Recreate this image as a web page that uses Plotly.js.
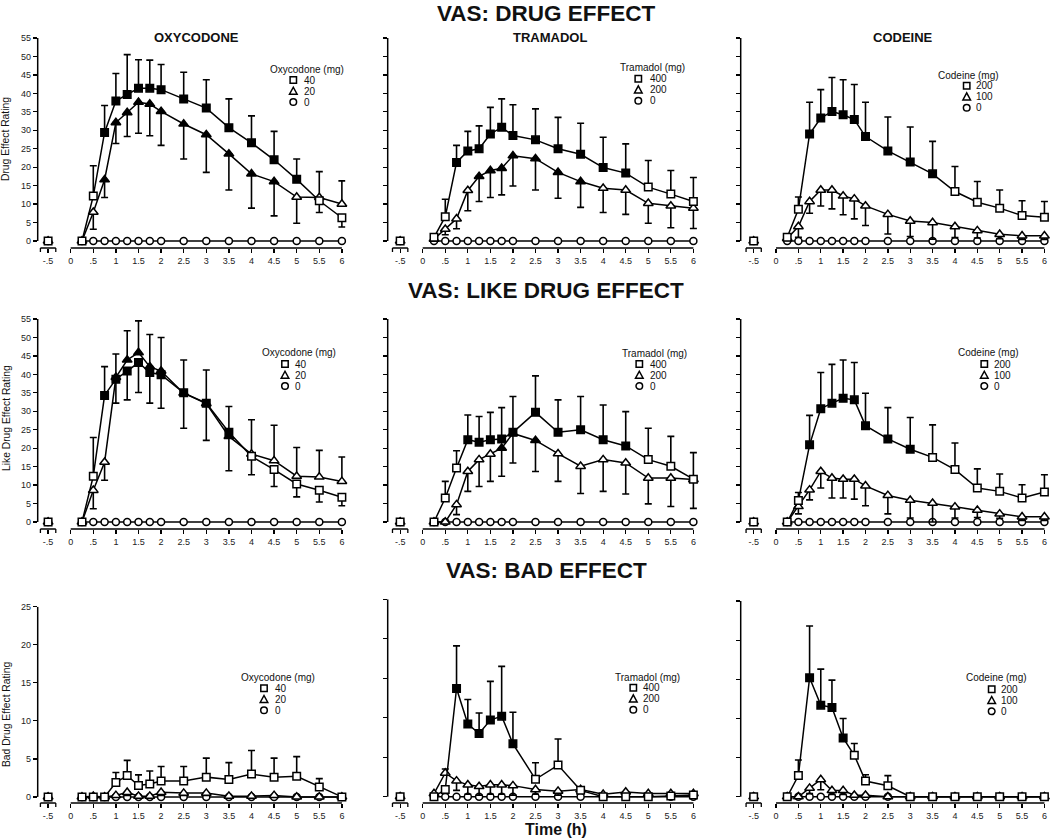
<!DOCTYPE html>
<html><head><meta charset="utf-8">
<script src="https://cdn.plot.ly/plotly-3.0.1.min.js"></script>
<style>html,body{margin:0;padding:0;background:#fff}#chart{width:1050px;height:839px}</style>
</head><body><div id="chart"></div>
<script>
// ---------- DATA ----------
const time = [0.25,0.5,0.75,1,1.25,1.5,1.75,2,2.5,3,3.5,4,4.5,5,5.5,6];
const baselineTime = [-0.5];
const tickVals = [-0.5,0,0.5,1,1.5,2,2.5,3,3.5,4,4.5,5,5.5,6];
const tickText = ['-.5','0','.5','1','1.5','2','2.5','3','3.5','4','4.5','5','5.5','6'];

const rowTitles = ['VAS: DRUG EFFECT','VAS: LIKE DRUG EFFECT','VAS: BAD EFFECT'];
const yTitles = ['Drug Effect Rating','Like Drug Effect Rating','Bad Drug Effect Rating'];
const drugTitles = ['OXYCODONE','TRAMADOL','CODEINE'];
const legendTitles = ['Oxycodone (mg)','Tramadol (mg)','Codeine (mg)'];
const oxyDoses = ['40','20','0'];
const tramDoses = ['400','200','0'];
const codDoses = ['200','100','0'];
const xTitle = 'Time (h)';

// VAS: Drug effect
const deOxyHigh = [0,12.2,29.4,37.9,39.7,41.4,41.4,41.0,38.5,36.0,30.7,26.6,22.0,16.7,10.9,6.3];
const deOxyHighErr = [0,8.2,7.3,7.5,10.8,7.7,7.6,6.8,7.2,7.7,7.8,7.3,7.7,5.5,3.2,2.5];
const deOxyHighSig = [0,0,1,1,1,1,1,1,1,1,1,1,1,1,0,0];
const deOxyLow = [0,7.8,16.6,32.1,34.8,37.6,37.1,35.1,31.7,28.8,23.6,18.2,16.1,11.9,11.8,10.0];
const deOxyLowErr = [0,4.6,4.8,5.7,6.5,8.4,8.6,9.2,9.5,10.2,9.8,9.3,9.3,7.1,7.0,6.3];
const deOxyLowSig = [0,0,1,1,1,1,1,1,1,1,1,1,1,0,0,0];
const deOxyPlacebo = [0,0,0,0,0,0,0,0,0,0,0,0,0,0,0,0];
const deOxyBase = [0,0,0];

const deTramHigh = [1.0,6.6,21.3,24.4,25.0,29.0,30.8,28.6,27.4,25.0,23.5,19.9,18.4,14.6,12.7,10.7];
const deTramHighErr = [0,4.7,4.6,5.3,6.2,7.2,7.7,8.3,8.4,8.5,8.4,8.2,7.9,7.2,6.4,6.5];
const deTramHighSig = [0,0,1,1,1,1,1,1,1,1,1,1,1,0,0,0];
const deTramLow = [0.5,3.2,6.0,13.7,17.5,19.1,19.7,23.1,22.3,18.6,16.1,14.3,13.8,10.2,9.5,8.9];
const deTramLowErr = [0,1.5,2.7,5.5,6.8,7.3,7.2,8.2,8.5,7.0,7.0,6.6,6.6,5.4,5.9,5.5];
const deTramLowSig = [0,0,0,0,1,1,1,1,1,1,1,0,0,0,0,0];
const deTramPlacebo = [0,0,0,0,0,0,0,0,0,0,0,0,0,0,0,0];
const deTramBase = [0,0,0];

const deCodHigh = [1.0,8.6,29.0,33.3,35.1,34.2,32.9,28.3,24.4,21.4,18.2,13.4,10.5,8.9,6.9,6.4];
const deCodHighErr = [0,3.3,8.6,7.7,9.2,9.5,9.5,9.3,9.2,9.5,8.8,6.8,5.6,4.9,4.0,4.3];
const deCodHighSig = [0,0,1,1,1,1,1,1,1,1,1,0,0,0,0,0];
const deCodLow = [0.7,3.9,10.7,13.8,13.8,12.2,11.4,9.5,7.2,5.4,5.0,3.9,2.8,1.8,1.4,1.4];
const deCodLowErr = [0,2.9,3.2,4.3,5.1,5.1,5.4,5.3,5.3,4.2,4.5,3.0,2.0,1.2,1.0,1.0];
const deCodLowSig = [0,0,0,0,0,0,0,0,0,0,0,0,0,0,0,0];
const deCodPlacebo = [0,0,0,0,0,0,0,0,0,0,0,0,0,0,0,0];
const deCodBase = [0,0,0];

// VAS: Like drug effect
const likeOxyHigh = [0,12.4,34.3,38.7,40.9,43.2,40.5,39.9,35.0,32.2,24.3,17.8,14.2,10.3,8.6,6.7];
const likeOxyHighErr = [0,10.5,7.8,6.5,7.8,8.1,8.3,9.1,8.9,9.0,7.0,5.0,4.6,3.5,3.2,2.3];
const likeOxyHighSig = [0,0,1,1,1,1,1,1,1,1,1,0,0,0,0,0];
const likeOxyLow = [0,8.6,16.2,39.2,43.9,45.9,42.1,40.9,34.9,32.1,23.2,18.4,16.6,12.4,12.2,11.0];
const likeOxyLowErr = [0,5.0,4.9,6.3,7.9,8.6,8.7,9.1,9.5,10.0,9.3,9.3,9.6,7.8,7.2,6.6];
const likeOxyLowSig = [0,0,0,1,1,1,1,1,1,1,1,0,0,0,0,0];
const likeOxyPlacebo = [0,0,0,0,0,0,0,0,0,0,0,0,0,0,0,0];
const likeOxyBase = [0,0,0];

const likeTramHigh = [0,6.5,14.6,22.3,21.6,22.3,22.5,24.3,29.7,24.3,25.0,22.3,20.6,16.9,15.1,11.6];
const likeTramHighErr = [0,4.5,4.7,6.7,7.0,7.4,8.5,9.7,9.9,8.8,9.0,9.4,9.3,8.5,8.1,7.2];
const likeTramHighSig = [0,0,0,1,1,1,1,1,1,1,1,1,1,0,0,0];
const likeTramLow = [0,0,4.7,13.7,16.9,18.4,20.0,24.0,22.1,18.5,15.1,16.9,16.0,11.9,11.9,11.5];
const likeTramLowErr = [0,0,2.7,5.4,7.3,7.4,7.6,8.0,8.4,7.5,7.4,8.6,8.4,7.0,7.7,7.8];
const likeTramLowSig = [0,0,0,0,0,0,1,1,1,0,0,0,0,0,0,0];
const likeTramPlacebo = [0,0,0,0,0,0,0,0,0,0,0,0,0,0,0,0];
const likeTramBase = [0,0,0];

const likeCodHigh = [0,5.8,20.9,30.7,32.2,33.5,33.1,26.1,22.5,19.7,17.5,14.2,9.2,8.3,6.5,8.1];
const likeCodHighErr = [0,2.2,8.0,9.8,10.5,10.4,10.1,8.8,8.5,8.6,8.8,7.2,5.2,4.7,3.6,4.7];
const likeCodHighSig = [0,0,1,1,1,1,1,1,1,1,0,0,0,0,0,0];
const likeCodLow = [0,4.2,8.7,13.7,11.9,11.6,11.6,9.8,7.2,5.9,5.1,4.1,3.2,2.2,1.4,1.4];
const likeCodLowErr = [0,2.0,2.7,4.5,5.4,5.1,5.4,5.4,5.0,4.8,5.1,3.0,2.0,1.2,1.0,1.0];
const likeCodLowSig = [0,0,0,0,0,0,0,0,0,0,0,0,0,0,0,0];
const likeCodPlacebo = [0,0,0,0,0,0,0,0,0,0,0,0,0,0,0,0];
const likeCodBase = [0,0,0];

// VAS: Bad effect
const badOxyHigh = [0,0,0,1.9,2.8,1.5,1.7,2.1,2.1,2.6,2.3,3.0,2.6,2.7,1.3,0];
const badOxyHighErr = [0,0,0,1.3,2.0,1.4,1.7,1.9,1.9,2.5,2.2,3.1,2.5,2.6,1.1,0];
const badOxyHighSig = [0,0,0,0,0,0,0,0,0,0,0,0,0,0,0,0];
const badOxyLow = [0,0.1,0,0.2,0.6,0.1,0.1,0.6,0.5,0.5,0.1,0.1,0.2,0,0,0];
const badOxyLowErr = [0,0,0,0.2,0.4,0.1,0.1,0.4,0.3,0.3,0.1,0.1,0.1,0,0,0];
const badOxyLowSig = [0,0,0,0,0,0,0,0,0,0,0,0,0,0,0,0];
const badOxyPlacebo = [0,0,0,0,0,0,0,0,0,0,0,0,0,0,0,0];
const badOxyBase = [0,0,0];

const badTramHigh = [0,0.9,13.7,9.2,8.0,9.7,10.2,6.7,2.2,4.0,0.8,0,0,0,0.1,0.2];
const badTramHighErr = [0,0.5,5.4,3.1,2.6,4.9,6.3,4.0,2.1,3.3,0.3,0,0,0,0,0];
const badTramHighSig = [0,0,1,1,1,1,1,1,0,0,0,0,0,0,0,0];
const badTramLow = [0.4,3.0,2.0,1.5,1.3,1.5,1.5,1.4,0.9,0.7,0.9,0.3,0.6,0.4,0.4,0.4];
const badTramLowErr = [0,0.5,1.2,1.2,1.1,1.2,1.2,1.2,0.6,0.5,0.3,0,0,0,0,0];
const badTramLowSig = [0,0,0,0,0,0,0,0,0,0,0,0,0,0,0,0];
const badTramPlacebo = [0,0,0,0,0,0,0,0,0,0,0,0,0,0,0,0];
const badTramBase = [0,0,0];

const badCodHigh = [0,2.7,15.2,11.7,11.4,7.5,5.3,2.0,1.4,0,0,0,0,0,0,0];
const badCodHighErr = [0,2.0,6.6,4.6,3.5,2.5,1.5,0.8,1.3,0,0,0,0,0,0,0];
const badCodHighSig = [0,0,1,1,1,1,0,0,0,0,0,0,0,0,0,0];
const badCodLow = [0,0,1.1,2.2,0.8,0.8,0.2,0.2,0,0,0,0,0,0,0,0];
const badCodLowErr = [0,0,0.7,1.3,0.5,0.5,0,0,0,0,0,0,0,0,0,0];
const badCodLowSig = [0,0,0,0,0,0,0,0,0,0,0,0,0,0,0,0];
const badCodPlacebo = [0,0,0,0,0,0,0,0,0,0,0,0,0,0,0,0];
const badCodBase = [0,0,0];

// ---------- PANEL TABLE (built from arrays above) ----------
const panels = [
  [deOxyHigh,deOxyHighErr,deOxyHighSig,deOxyLow,deOxyLowErr,deOxyLowSig,deOxyPlacebo,deOxyBase,oxyDoses],
  [deTramHigh,deTramHighErr,deTramHighSig,deTramLow,deTramLowErr,deTramLowSig,deTramPlacebo,deTramBase,tramDoses],
  [deCodHigh,deCodHighErr,deCodHighSig,deCodLow,deCodLowErr,deCodLowSig,deCodPlacebo,deCodBase,codDoses],
  [likeOxyHigh,likeOxyHighErr,likeOxyHighSig,likeOxyLow,likeOxyLowErr,likeOxyLowSig,likeOxyPlacebo,likeOxyBase,oxyDoses],
  [likeTramHigh,likeTramHighErr,likeTramHighSig,likeTramLow,likeTramLowErr,likeTramLowSig,likeTramPlacebo,likeTramBase,tramDoses],
  [likeCodHigh,likeCodHighErr,likeCodHighSig,likeCodLow,likeCodLowErr,likeCodLowSig,likeCodPlacebo,likeCodBase,codDoses],
  [badOxyHigh,badOxyHighErr,badOxyHighSig,badOxyLow,badOxyLowErr,badOxyLowSig,badOxyPlacebo,badOxyBase,oxyDoses],
  [badTramHigh,badTramHighErr,badTramHighSig,badTramLow,badTramLowErr,badTramLowSig,badTramPlacebo,badTramBase,tramDoses],
  [badCodHigh,badCodHighErr,badCodHighSig,badCodLow,badCodLowErr,badCodLowSig,badCodPlacebo,badCodBase,codDoses]
];

// ---------- LAYOUT GEOMETRY (pixels) ----------
const W = 1050, H = 839;
const PX = p => p / W;
const PY = p => 1 - p / H;
const colPx = [[37.7,345.5],[387.7,697],[740.7,1048]];
const xRanges = [[-0.73,6.08],[-0.776,6.08],[-0.79,6.08]];
const rowPx = [
  [[38,248],[38,248],[38,248]],
  [[319,529],[319,529],[319,529]],
  [[606.7,803],[599.3,803],[601,803]]
];
const yRanges = [[-1.9,55],[-1.9,55],[-0.8,25]];
const yMax = [55,55,25];
// legend positions: [titleCx, titleCy, symbolX, firstItemY, labelLeft]
const legPos = [
  [307,69,293.3,80,301.7],[652,67.7,638.3,78.7,647.7],[968,75,966.7,85.7,974],
  [299,352.7,285,364,293.3],[654,353.3,639.3,364,647.7],[988.5,352.3,984.3,364,991.7],
  [278,677.3,264,688.3,272.7],[647,677.7,633.3,687.7,641],[996,677.7,991.7,689.3,999]
];

const FONT = 'Liberation Sans, Arial, Helvetica, sans-serif';
const INK = '#111';
const traces = [], shapes = [], annotations = [];
const layout = {
  width: W, height: H, margin: {l:0,r:0,t:0,b:0},
  paper_bgcolor: '#fff', plot_bgcolor: 'rgba(0,0,0,0)',
  showlegend: false, font: {family: FONT, color: INK, size: 9}
};

const sym = ['square','triangle-up','circle'];
const msize = [7.5, 8.5, 7];
const fillOf = s => s.map(v => v ? '#000' : '#fff');

for (let r = 0; r < 3; r++) {
  for (let c = 0; c < 3; c++) {
    const idx = r*3 + c;
    const n = idx + 1;
    const xa = 'x' + (n > 1 ? n : ''), ya = 'y' + (n > 1 ? n : '');
    const xk = 'xaxis' + (n > 1 ? n : ''), yk = 'yaxis' + (n > 1 ? n : '');
    const [hi, hiErr, hiSig, lo, loErr, loSig, pl, base, doses] = panels[idx];

    layout[xk] = {
      domain: [PX(colPx[c][0]), PX(colPx[c][1])], anchor: ya,
      range: xRanges[c], tickmode: 'array', tickvals: tickVals, ticktext: tickText,
      ticks: 'outside', ticklen: 4, tickwidth: 1.3, tickcolor: '#000',
      showline: false, zeroline: false, showgrid: false,
      tickfont: {family: FONT, size: 9, color: '#222'}, fixedrange: true
    };
    layout[yk] = {
      domain: [PY(rowPx[r][c][1]), PY(rowPx[r][c][0])], anchor: xa,
      range: yRanges[r], tickmode: 'linear', tick0: 0, dtick: 5,
      ticks: 'outside', ticklen: 4, tickwidth: 1.3, tickcolor: '#000',
      showticklabels: c === 0, showline: false, zeroline: false, showgrid: false,
      tickfont: {family: FONT, size: 9, color: '#222'}, fixedrange: true
    };

    // axis lines
    const ln = {color: '#000', width: 1.5};
    shapes.push({type:'line', xref: xa + ' domain', yref: ya, x0: 0, x1: 0, y0: 0, y1: yMax[r], line: ln});
    shapes.push({type:'line', xref: xa, yref: ya + ' domain', x0: 0, x1: 6, y0: 0, y1: 0, line: ln});
    shapes.push({type:'line', xref: xa, yref: ya + ' domain', x0: -0.67, x1: -0.33, y0: 0, y1: 0, line: ln});
    [-0.67, -0.33].forEach(xv => shapes.push({
      type:'line', xref: xa, yref: ya + ' domain', ysizemode: 'pixel', yanchor: 0,
      x0: xv, x1: xv, y0: 0, y1: -4, line: {color:'#000', width: 1.3}
    }));

    // error-bar directions: the higher of the two active doses gets the upward bar
    const hiUp = hi.map((v, j) => v >= lo[j]);
    const series = [
      {y: pl, err: null, sig: null, s: 2},
      {y: lo, err: loErr, sig: loSig, s: 1},
      {y: hi, err: hiErr, sig: hiSig, s: 0}
    ];
    // baseline (-0.5) points, not connected
    [2,1,0].forEach(k => {
      traces.push({
        x: baselineTime, y: [base[k]], xaxis: xa, yaxis: ya, type: 'scatter', mode: 'markers',
        cliponaxis: false, hoverinfo: 'skip',
        marker: {symbol: sym[k], size: msize[k], color: '#fff', line: {color: '#000', width: 1.5}}
      });
    });
    series.forEach(sr => {
      const t = {
        x: time, y: sr.y, xaxis: xa, yaxis: ya, type: 'scatter', mode: 'lines+markers',
        cliponaxis: false,
        line: {color: '#000', width: 1.5},
        marker: {symbol: sym[sr.s], size: msize[sr.s],
                 color: sr.sig ? fillOf(sr.sig) : '#fff', line: {color: '#000', width: 1.5}}
      };
      if (sr.err) {
        const isHigh = sr.s === 0;
        const up = sr.err.map((e, j) => (isHigh ? hiUp[j] : !hiUp[j]) ? e : 0);
        const dn = sr.err.map((e, j) => (isHigh ? hiUp[j] : !hiUp[j]) ? 0 : e);
        t.error_y = {type: 'data', symmetric: false, array: up, arrayminus: dn,
                     color: '#000', thickness: 1.6, width: 3.5};
      }
      traces.push(t);
    });

    // legend (text + symbols)
    const [tcx, tcy, sx, iy, lx] = legPos[idx];
    annotations.push({xref:'paper', yref:'paper', x: PX(tcx), y: PY(tcy), xanchor:'center', yanchor:'middle',
      text: legendTitles[c], showarrow: false, font: {family: FONT, size: 10, color: INK}});
    for (let k = 0; k < 3; k++) {
      const yy = iy + k*11;
      annotations.push({xref:'paper', yref:'paper', x: PX(lx), y: PY(yy), xanchor:'left', yanchor:'middle',
        text: doses[k], showarrow: false, font: {family: FONT, size: 10, color: INK}});
      const sl = {color:'#000', width: 1.5};
      if (k === 0) shapes.push({type:'rect', xref:'paper', yref:'paper', x0: PX(sx-3.2), x1: PX(sx+3.2), y0: PY(yy+3.2), y1: PY(yy-3.2), line: sl, fillcolor:'#fff'});
      if (k === 1) shapes.push({type:'path', xref:'paper', yref:'paper',
        path: `M ${PX(sx-3.8)},${PY(yy+3.2)} L ${PX(sx+3.8)},${PY(yy+3.2)} L ${PX(sx)},${PY(yy-3.8)} Z`, line: sl, fillcolor:'#fff'});
      if (k === 2) shapes.push({type:'circle', xref:'paper', yref:'paper', x0: PX(sx-3.3), x1: PX(sx+3.3), y0: PY(yy+3.3), y1: PY(yy-3.3), line: sl, fillcolor:'#fff'});
    }
  }
}

// titles
const rowTitleY = [0, 277, 557];
rowTitles.forEach((t, r) => annotations.push({xref:'paper', yref:'paper', x: PX(546), y: PY(rowTitleY[r]),
  xanchor:'center', yanchor:'top', borderpad: 0, text: t, showarrow: false,
  font: {family: FONT, size: 22.5, color: INK, weight: 700}}));
const drugTitleX = [196, 550, 903];
drugTitles.forEach((t, c) => annotations.push({xref:'paper', yref:'paper', x: PX(drugTitleX[c]), y: PY(37.5),
  xanchor:'center', yanchor:'middle', text: t, showarrow: false,
  font: {family: FONT, size: 13, color: INK, weight: 700}}));
const yTitleY = [139, 418, 715];
yTitles.forEach((t, r) => annotations.push({xref:'paper', yref:'paper', x: PX(6), y: PY(yTitleY[r]),
  xanchor:'center', yanchor:'middle', textangle: -90, text: t, showarrow: false,
  font: {family: FONT, size: 10.3, color: INK}}));
annotations.push({xref:'paper', yref:'paper', x: PX(556), y: PY(829), xanchor:'center', yanchor:'middle',
  text: xTitle, showarrow: false, font: {family: FONT, size: 16, color: INK, weight: 700}});

layout.shapes = shapes;
layout.annotations = annotations;
Plotly.newPlot('chart', traces, layout, {staticPlot: true, displayModeBar: false});
</script></body></html>
